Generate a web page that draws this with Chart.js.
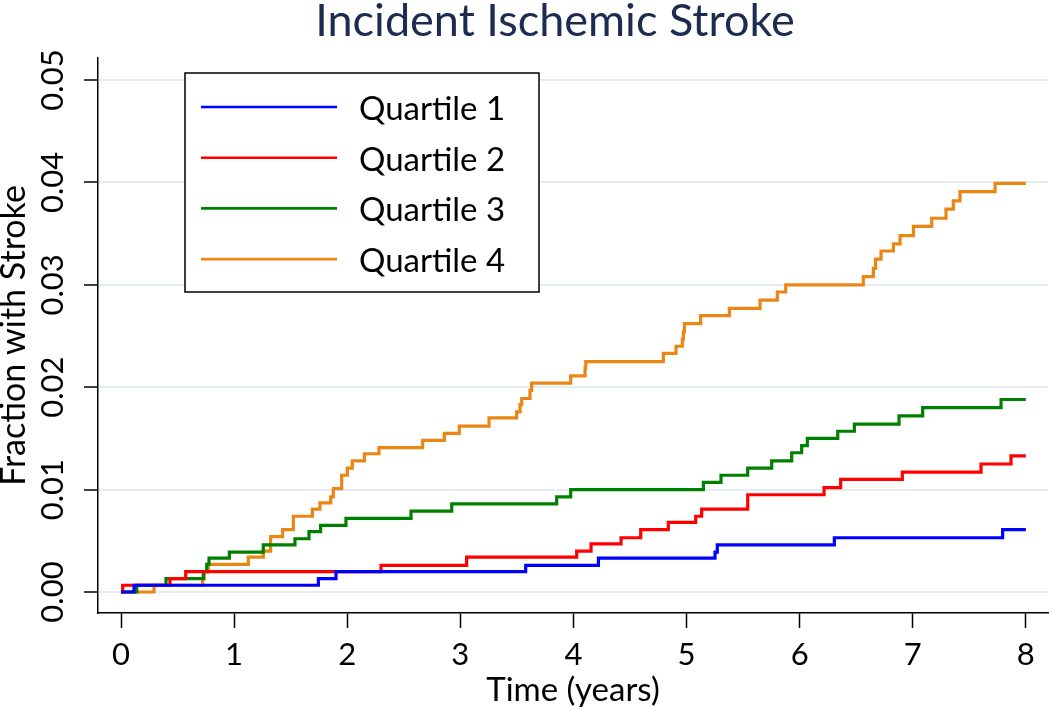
<!DOCTYPE html>
<html>
<head>
<meta charset="utf-8">
<title>Incident Ischemic Stroke</title>
<script src="https://cdn.jsdelivr.net/npm/chart.js@4.4.1/dist/chart.umd.min.js"></script>
<style>
  html, body { margin: 0; padding: 0; background: #fff; }
  #wrap { width: 1050px; height: 710px; position: relative; }
</style>
</head>
<body>
<div id="wrap"><canvas id="grafico"></canvas></div>
<script>
// datos (Kaplan-Meier, fraccion acumulada)
const tituloGrafico = 'Incident Ischemic Stroke';
const tituloX = 'Time (years)';
const tituloY = 'Fraction with Stroke';
const ticksX = [0, 1, 2, 3, 4, 5, 6, 7, 8];
const ticksY = [0, 0.01, 0.02, 0.03, 0.04, 0.05];
const etiquetas = ['Quartile 1', 'Quartile 2', 'Quartile 3', 'Quartile 4'];
const colores = ['#0000ff', '#ff0000', '#008000', '#ea8614'];

const q1Tiempo = [0, 0.115, 1.745, 1.901, 3.578, 4.221, 5.252, 5.272, 6.307, 7.795, 8.0];
const q1Valor  = [0, 0.00066, 0.0013, 0.0020, 0.0026, 0.0033, 0.0039, 0.0046, 0.0053, 0.0061, 0.0061];

const q2Tiempo = [0, 0.015, 0.433, 0.572, 2.299, 3.056, 4.029, 4.156, 4.421, 4.595, 4.839,
                  5.081, 5.134, 5.541, 6.216, 6.363, 6.908, 7.604, 7.869, 8.0];
const q2Valor  = [0, 0.00066, 0.0013, 0.0020, 0.0026, 0.0034, 0.0040, 0.0047, 0.0053, 0.0061, 0.0068,
                  0.0074, 0.0081, 0.0095, 0.0102, 0.0110, 0.0117, 0.0125, 0.0133, 0.0133];

const q3Tiempo = [0, 0.139, 0.398, 0.728, 0.758, 0.778, 0.958, 1.258, 1.538, 1.662, 1.765, 1.989,
                  2.564, 2.924, 3.852, 3.976, 5.149, 5.305, 5.541, 5.753, 5.930, 6.018, 6.068,
                  6.337, 6.484, 6.879, 7.088, 7.781, 8.0];
const q3Valor  = [0, 0.00066, 0.0013, 0.0020, 0.0027, 0.0033, 0.0039, 0.0046, 0.0052, 0.0059, 0.0065, 0.0072,
                  0.0079, 0.0086, 0.0093, 0.0100, 0.0107, 0.0114, 0.0121, 0.0128, 0.0136, 0.0143, 0.0150,
                  0.0157, 0.0164, 0.0172, 0.0180, 0.0188, 0.0188];

const q4Tiempo = [0, 0.292, 0.722, 0.737, 0.772, 1.126, 1.258, 1.323, 1.429, 1.524, 1.692, 1.759,
                  1.854, 1.877, 1.951, 2.001, 2.045, 2.152, 2.281, 2.667, 2.859, 2.991, 3.254,
                  3.498, 3.528, 3.543, 3.616, 3.631, 3.976, 4.103, 4.109, 4.795, 4.907, 4.963,
                  4.972, 4.981, 5.125, 5.379, 5.650, 5.803, 5.877, 6.563, 6.652, 6.672, 6.720,
                  6.829, 6.888, 7.006, 7.168, 7.294, 7.359, 7.418, 7.728, 8.0];
const q4Valor  = [0, 0.00066, 0.0013, 0.0020, 0.0027, 0.0034, 0.0040, 0.0054, 0.0061, 0.0074, 0.0081, 0.0087,
                  0.0093, 0.0101, 0.0114, 0.0121, 0.0128, 0.0135, 0.0141, 0.0148, 0.0155, 0.0162, 0.0170,
                  0.0176, 0.0183, 0.0189, 0.0197, 0.0204, 0.0211, 0.0219, 0.0225, 0.0233, 0.0240, 0.0247,
                  0.0254, 0.0262, 0.0270, 0.0277, 0.0285, 0.0293, 0.0300, 0.0308, 0.0316, 0.0325, 0.0333,
                  0.0340, 0.0348, 0.0357, 0.0365, 0.0374, 0.0382, 0.0391, 0.0399, 0.0399];

const tiempos = [q1Tiempo, q2Tiempo, q3Tiempo, q4Tiempo];
const valores = [q1Valor, q2Valor, q3Valor, q4Valor];

const fuente = 'Lato, "Open Sans", sans-serif';

function armarSerie(i) {
    return {
        label: etiquetas[i],
        data: tiempos[i].map((t, k) => ({ x: t, y: valores[i][k] })),
        borderColor: colores[i],
        backgroundColor: colores[i],
        borderWidth: 3.2,
        pointRadius: 0,
        stepped: true,
        fill: false
    };
}

// titulo y leyenda dibujados a mano (la leyenda va dentro del area)
const pluginTitulo = {
    id: 'tituloPropio',
    afterDraw(chart) {
        const ctx = chart.ctx;
        ctx.save();
        ctx.font = '45px ' + fuente;
        ctx.fillStyle = '#1c2b50';
        ctx.textAlign = 'center';
        ctx.textBaseline = 'alphabetic';
        ctx.fillText(tituloGrafico, 555, 36);
        ctx.restore();
    }
};

const pluginLeyenda = {
    id: 'leyendaCaja',
    afterDraw(chart) {
        const ctx = chart.ctx;
        const caja = { x: 185, y: 73, w: 354, h: 219 };
        ctx.save();
        ctx.fillStyle = '#fff';
        ctx.fillRect(caja.x, caja.y, caja.w, caja.h);
        ctx.strokeStyle = '#000';
        ctx.lineWidth = 1.5;
        ctx.strokeRect(caja.x, caja.y, caja.w, caja.h);
        ctx.font = '33px ' + fuente;
        ctx.textAlign = 'left';
        ctx.textBaseline = 'alphabetic';
        chart.data.datasets.forEach((ds, i) => {
            const yLinea = 107 + i * 50.7;
            ctx.strokeStyle = ds.borderColor;
            ctx.lineWidth = 2.6;
            ctx.beginPath();
            ctx.moveTo(201, yLinea);
            ctx.lineTo(337, yLinea);
            ctx.stroke();
            ctx.fillStyle = '#000';
            ctx.fillText(ds.label, 359, yLinea + 13);
        });
        ctx.restore();
    }
};

const ctx = document.getElementById('grafico').getContext('2d');
new Chart(ctx, {
    type: 'line',
    data: { datasets: [0, 1, 2, 3].map(armarSerie) },
    options: {
        responsive: true,
        maintainAspectRatio: false,
        animation: false,
        layout: { padding: { top: 58, right: 2, left: 0, bottom: 0 } },
        plugins: {
            legend: { display: false },
            title: { display: false },
            tooltip: { enabled: false }
        },
        scales: {
            x: {
                type: 'linear',
                min: -0.2034,
                max: 8.196,
                afterBuildTicks: (s) => { s.ticks = ticksX.map(v => ({ value: v })); },
                afterFit: (s) => { s.height = 97; },
                grid: { drawOnChartArea: false, color: '#000', tickColor: '#000', tickLength: 15, tickWidth: 1.5 },
                border: { display: true, color: '#000', width: 1.5 },
                ticks: {
                    color: '#000',
                    padding: 8,
                    font: { family: fuente, size: 31 },
                    maxRotation: 0,
                    callback: (v) => String(v)
                },
                title: {
                    display: true,
                    text: tituloX,
                    color: '#000',
                    font: { family: fuente, size: 33 },
                    padding: { top: 0, bottom: 0 }
                }
            },
            y: {
                type: 'linear',
                min: -0.00205,
                max: 0.05215,
                afterBuildTicks: (s) => { s.ticks = ticksY.map(v => ({ value: v })); },
                afterFit: (s) => { s.width = 98; },
                grid: { color: '#e6edf0', lineWidth: 2, tickColor: '#000', tickLength: 14, tickWidth: 1.5 },
                border: { display: true, color: '#000', width: 1.5 },
                ticks: {
                    color: '#000',
                    padding: 0,
                    minRotation: 90,
                    maxRotation: 90,
                    crossAlign: 'center',
                    font: { family: fuente, size: 31 },
                    callback: (v) => v.toFixed(2)
                },
                title: {
                    display: true,
                    text: tituloY,
                    color: '#000',
                    font: { family: fuente, size: 34, lineHeight: 0.8 },
                    padding: 0
                }
            }
        }
    },
    plugins: [pluginTitulo, pluginLeyenda]
});
</script>
</body>
</html>
